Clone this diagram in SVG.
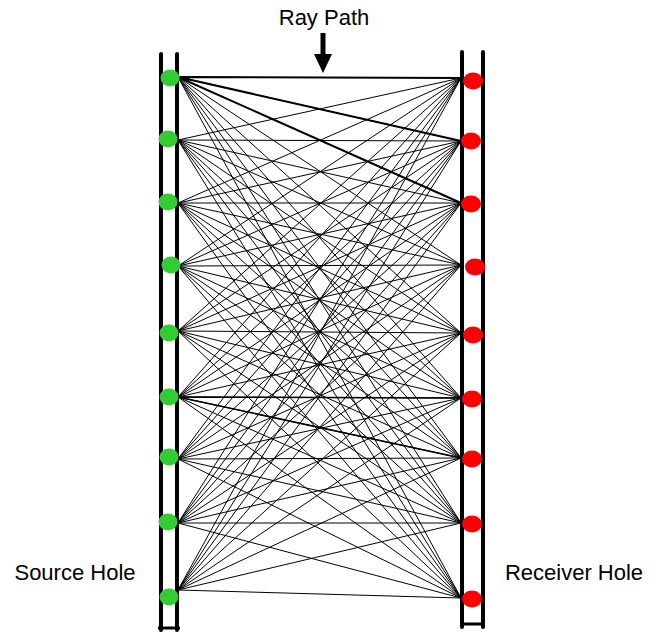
<svg xmlns="http://www.w3.org/2000/svg" width="669" height="635" viewBox="0 0 669 635">
<style>
.lbl{font-family:"Liberation Sans",Arial,sans-serif;font-size:22px;fill:#000}
.hole{stroke:#000;stroke-width:4;fill:none;stroke-linecap:round}
.bar{stroke:#000;stroke-width:3;fill:none}
.ray{stroke:#000;stroke-width:1;fill:none}
.rayb{stroke:#000;stroke-width:2;fill:none}
.src{fill:#33cc33}
.rcv{fill:#ff0000}
</style>
<rect width="669" height="635" fill="#fff"/>
<g id="source-hole">
<line class="hole" x1="161" y1="54" x2="161" y2="630"/>
<line class="hole" x1="177" y1="54" x2="177" y2="630"/>
<line class="bar" x1="158" y1="628" x2="180" y2="628"/>
</g>
<g id="receiver-hole">
<line class="hole" x1="462" y1="52" x2="462" y2="627"/>
<line class="hole" x1="483" y1="52" x2="483" y2="627"/>
<line class="bar" x1="462" y1="624" x2="483" y2="624"/>
</g>
<g id="connectors">
<path class="ray" d="M178 77L461 141M178 77L461 203M178 77L461 265M178 77L461 333M178 77L461 398M178 77L461 458M178 77L461 523M178 77L461 598"/>
<path class="rayb" d="M178 77L461 78M178 77L461 141M178 77L461 203"/>
<path class="ray" d="M178 140L461 78M178 140L461 141M178 140L461 203M178 140L461 265M178 140L461 333M178 140L461 398M178 140L461 458M178 140L461 523M178 140L461 598"/>
<path class="ray" d="M178 203L461 78M178 203L461 141M178 203L461 203M178 203L461 265M178 203L461 333M178 203L461 398M178 203L461 458M178 203L461 523M178 203L461 598"/>
<path class="ray" d="M178 266L461 78M178 266L461 141M178 266L461 203M178 266L461 265M178 266L461 333M178 266L461 398M178 266L461 458M178 266L461 523M178 266L461 598"/>
<path class="ray" d="M178 331L461 78M178 331L461 141M178 331L461 203M178 331L461 265M178 331L461 333M178 331L461 398M178 331L461 458M178 331L461 523M178 331L461 598"/>
<path class="ray" d="M178 397L461 78M178 397L461 141M178 397L461 203M178 397L461 265M178 397L461 333M178 397L461 398M178 397L461 458M178 397L461 523M178 397L461 598"/>
<path class="rayb" d="M178 397L461 398M178 397L461 458" style="stroke-width:1.5"/>
<path class="ray" d="M178 459L461 78M178 459L461 141M178 459L461 203M178 459L461 265M178 459L461 333M178 459L461 398M178 459L461 458M178 459L461 523M178 459L461 598"/>
<path class="ray" d="M178 523L461 78M178 523L461 141M178 523L461 203M178 523L461 265M178 523L461 333M178 523L461 398M178 523L461 458M178 523L461 523M178 523L461 598"/>
<path class="ray" d="M178 590L461 78M178 590L461 141M178 590L461 203M178 590L461 265M178 590L461 333M178 590L461 398M178 590L461 458M178 590L461 523M178 590L461 598"/>
</g>
<g id="sources">
<ellipse class="src" cx="170" cy="78" rx="9.5" ry="8.5"/>
<ellipse class="src" cx="168" cy="139" rx="9.5" ry="8.5"/>
<ellipse class="src" cx="168" cy="202" rx="9.5" ry="8.5"/>
<ellipse class="src" cx="171" cy="265" rx="9.5" ry="8.5"/>
<ellipse class="src" cx="169" cy="333" rx="9.5" ry="8.5"/>
<ellipse class="src" cx="169" cy="397" rx="9.5" ry="8.5"/>
<ellipse class="src" cx="169" cy="457" rx="9.5" ry="8.5"/>
<ellipse class="src" cx="168" cy="522" rx="9.5" ry="8.5"/>
<ellipse class="src" cx="169" cy="597" rx="9.5" ry="8.5"/>
</g>
<g id="receivers">
<ellipse class="rcv" cx="473" cy="81" rx="10" ry="8.5"/>
<ellipse class="rcv" cx="471" cy="141" rx="10" ry="8.5"/>
<ellipse class="rcv" cx="471" cy="204" rx="10" ry="8.5"/>
<ellipse class="rcv" cx="475" cy="267" rx="10" ry="8.5"/>
<ellipse class="rcv" cx="473" cy="335" rx="10" ry="8.5"/>
<ellipse class="rcv" cx="472" cy="399" rx="10" ry="8.5"/>
<ellipse class="rcv" cx="472" cy="459" rx="10" ry="8.5"/>
<ellipse class="rcv" cx="472" cy="524" rx="10" ry="8.5"/>
<ellipse class="rcv" cx="472" cy="599" rx="10" ry="8.5"/>
</g>
<g id="ray-path-label">
<text class="lbl" x="324" y="25" text-anchor="middle">Ray Path</text>
<rect x="320.5" y="33" width="5" height="22" fill="#000"/>
<polygon points="314,54 332,54 323,73" fill="#000"/>
</g>
<g id="source-label">
<text class="lbl" x="75" y="580" text-anchor="middle">Source Hole</text>
</g>
<g id="receiver-label">
<text class="lbl" x="574" y="580" text-anchor="middle">Receiver Hole</text>
</g>
</svg>
